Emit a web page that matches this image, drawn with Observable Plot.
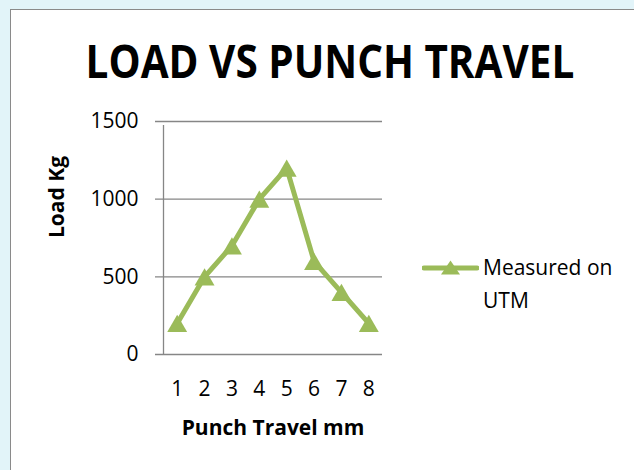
<!DOCTYPE html>
<html><head><meta charset="utf-8">
<script src="https://cdn.jsdelivr.net/npm/d3@7"></script>
<script src="https://cdn.jsdelivr.net/npm/@observablehq/plot@0.6"></script>
<style>
html,body{margin:0;padding:0;width:634px;height:470px;overflow:hidden;background:#e2f4f9;font-family:"Open Sans",sans-serif;}
#box{position:absolute;left:10px;top:9px;width:640px;height:480px;background:#fff;border:1px solid #8a8a8a;}
#title{position:absolute;left:0;width:660px;top:33px;text-align:center;font-weight:700;font-size:46px;line-height:54px;color:#000;white-space:nowrap;transform:scaleX(0.88);transform-origin:330px 0;}
#chart{position:absolute;left:0;top:100px;}
#legend{position:absolute;left:422px;top:252px;display:flex;align-items:flex-start;}
#legend .txt{font-size:21px;line-height:33px;color:#000;margin-left:4px;margin-top:-1px;}
</style>
</head><body>
<div id="box"></div>
<div id="title">LOAD VS PUNCH TRAVEL</div>
<div id="chart"></div>
<div id="legend"><svg width="57" height="32"><line x1="2" y1="16" x2="55" y2="16" stroke="#9bbb59" stroke-width="5" stroke-linecap="round"/><path d="M28.5,8.5 L38,22.5 L19,22.5 Z" fill="#9bbb59"/></svg><div class="txt">Measured on<br>UTM</div></div>
<script>
const travel = [1, 2, 3, 4, 5, 6, 7, 8];
const load = [200, 500, 700, 1000, 1200, 600, 400, 200];
const yTicks = [0, 500, 1000, 1500];
const seriesName = "Measured on UTM";
const xLabel = "Punch Travel mm";
const yLabel = "Load Kg";

const data = travel.map((t, i) => ({travel: t, load: load[i], series: seriesName}));
const green = "#9bbb59", grid = "#868686";

const plot = Plot.plot({
  width: 634, height: 370,
  marginTop: 21, marginBottom: 116, marginLeft: 163, marginRight: 252,
  style: {fontFamily: "Open Sans", fontSize: "21px", color: "#000", background: "transparent", overflow: "visible"},
  x: {domain: [0.5, 8.5]},
  y: {domain: [0, 1500]},
  marks: [
    Plot.ruleY(yTicks, {stroke: grid, strokeWidth: 1.3, insetLeft: -8}),
    Plot.ruleX([0.5], {y1: 0, y2: 1500, stroke: grid, strokeWidth: 1.3, insetBottom: -4}),
    Plot.axisX({ticks: travel, tickFormat: d3.format("d"), tickSize: 0, tickPadding: 27, label: null, fontSize: 21}),
    Plot.axisY({ticks: yTicks, tickFormat: d3.format("d"), tickSize: 0, tickPadding: 25, label: null, fontSize: 21}),
    Plot.line(data, {x: "travel", y: "load", stroke: green, strokeWidth: 5}),
    Plot.dot(data, {x: "travel", y: "load", symbol: "triangle", r: 7.4, fill: green, stroke: "none", dy: 2.9}),
    Plot.text([yLabel], {frameAnchor: "left", dx: -106, rotate: -90, fontWeight: "bold", fontSize: 21}),
    Plot.text([xLabel], {frameAnchor: "bottom", dy: 80, fontWeight: "bold", fontSize: 21})
  ]
});
document.getElementById("chart").appendChild(plot);
</script>
</body></html>
